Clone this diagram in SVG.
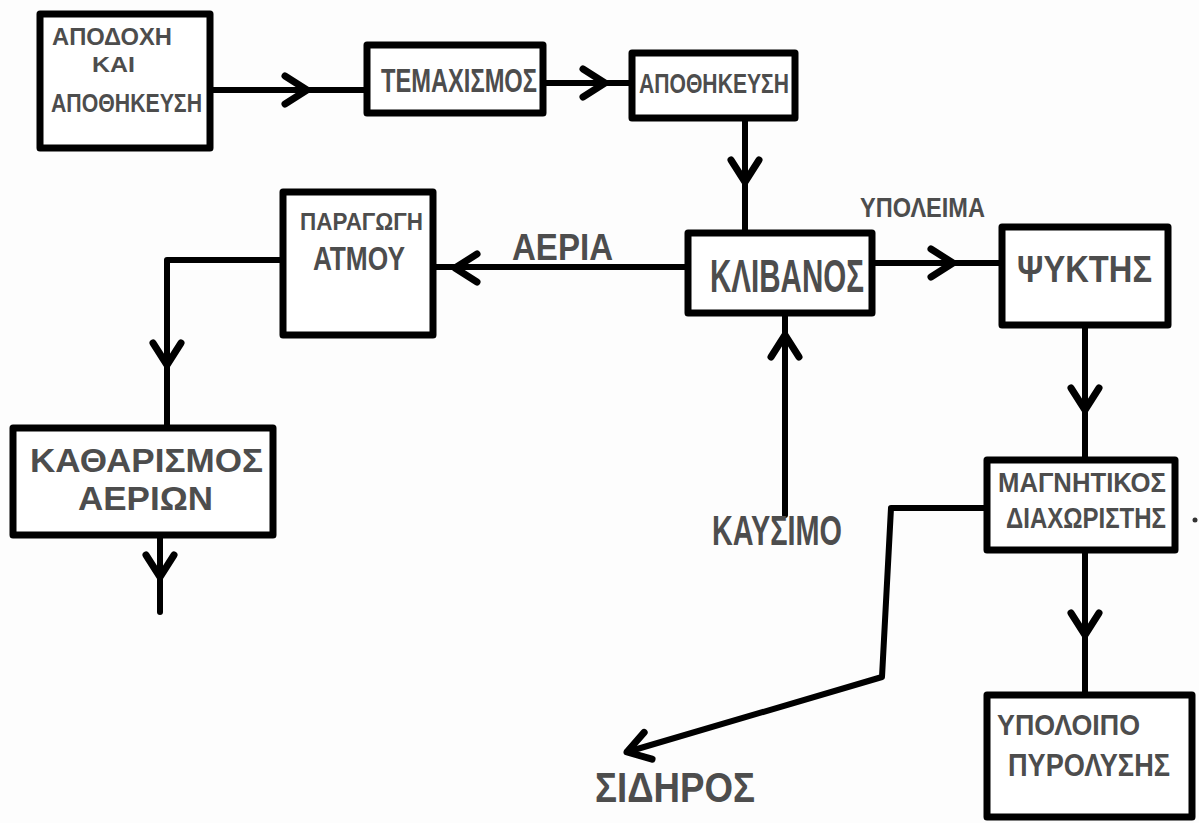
<svg xmlns="http://www.w3.org/2000/svg" xmlns:xlink="http://www.w3.org/1999/xlink" width="1199" height="823" viewBox="0 0 1199 823">
<style>
.box{fill:#fff;stroke:#000;stroke-width:7;stroke-linejoin:round}
.ln{fill:none;stroke:#000;stroke-width:6;stroke-linecap:round;stroke-linejoin:round}
.t{font-family:"Liberation Sans","DejaVu Sans",sans-serif;font-weight:bold;fill:#4d4d4d}
</style>
<defs>
<path id="chev" d="M-22,-14 L0,0 L-22,14" fill="none" stroke="#000" stroke-width="7" stroke-linecap="round" stroke-linejoin="round"/>
</defs>
<rect width="1199" height="823" fill="#fdfdfd"/>
<g id="connectors">
<path class="ln" d="M210,90 H367"/>
<use xlink:href="#chev" transform="translate(307,90)"/>
<path class="ln" d="M543,83 H632"/>
<use xlink:href="#chev" transform="translate(605,83)"/>
<path class="ln" d="M745,118 V233"/>
<use xlink:href="#chev" transform="translate(745,182) rotate(90)"/>
<path class="ln" d="M688,267 H433"/>
<use xlink:href="#chev" transform="translate(455,268) rotate(180)"/>
<path class="ln" d="M872,263 H1002"/>
<use xlink:href="#chev" transform="translate(953,263)"/>
<path class="ln" d="M1085,325 V460"/>
<use xlink:href="#chev" transform="translate(1085,410) rotate(90)"/>
<path class="ln" d="M1085,550 V695"/>
<use xlink:href="#chev" transform="translate(1085,635) rotate(90)"/>
<path class="ln" d="M785,515 V313"/>
<use xlink:href="#chev" transform="translate(785,335) rotate(-90)"/>
<path class="ln" d="M283,260 H167 V428"/>
<use xlink:href="#chev" transform="translate(167,365) rotate(90)"/>
<path class="ln" d="M160,535 V612"/>
<use xlink:href="#chev" transform="translate(160,577) rotate(90)"/>
<path class="ln" d="M987,508 H891 L882,677 L627,752"/>
<use xlink:href="#chev" transform="translate(627,752) rotate(163.6)"/>
</g>
<g id="n_apodoxi">
<rect class="box" x="40" y="14" width="170" height="134"/>
<text class="t" x="52" y="45" font-size="24" textLength="120" lengthAdjust="spacingAndGlyphs">ΑΠΟΔΟΧΗ</text>
<text class="t" x="92" y="72" font-size="22" textLength="43" lengthAdjust="spacingAndGlyphs">ΚΑΙ</text>
<text class="t" x="51" y="112" font-size="26" textLength="151" lengthAdjust="spacingAndGlyphs">ΑΠΟΘΗΚΕΥΣΗ</text>
</g>
<g id="n_temaxismos">
<rect class="box" x="367" y="45" width="176" height="68"/>
<text class="t" x="381" y="92" font-size="33" textLength="156" lengthAdjust="spacingAndGlyphs">ΤΕΜΑΧΙΣΜΟΣ</text>
</g>
<g id="n_apothikeusi">
<rect class="box" x="632" y="53" width="163" height="65"/>
<text class="t" x="639" y="93" font-size="27" textLength="150" lengthAdjust="spacingAndGlyphs">ΑΠΟΘΗΚΕΥΣΗ</text>
</g>
<g id="n_paragogi">
<rect class="box" x="283" y="192" width="150" height="143"/>
<text class="t" x="300" y="230" font-size="24" textLength="123" lengthAdjust="spacingAndGlyphs">ΠΑΡΑΓΩΓΗ</text>
<text class="t" x="313" y="270" font-size="33" textLength="92" lengthAdjust="spacingAndGlyphs">ΑΤΜΟΥ</text>
</g>
<g id="n_klivanos">
<rect class="box" x="688" y="233" width="184" height="80"/>
<text class="t" x="710" y="292" font-size="46" textLength="154" lengthAdjust="spacingAndGlyphs">ΚΛΙΒΑΝΟΣ</text>
</g>
<g id="n_psyktis">
<rect class="box" x="1002" y="227" width="166" height="98"/>
<text class="t" x="1017" y="282" font-size="36" textLength="135" lengthAdjust="spacingAndGlyphs">ΨΥΚΤΗΣ</text>
</g>
<g id="n_katharismos">
<rect class="box" x="13" y="428" width="260" height="107"/>
<text class="t" x="30" y="472" font-size="33" textLength="233" lengthAdjust="spacingAndGlyphs">ΚΑΘΑΡΙΣΜΟΣ</text>
<text class="t" x="78" y="510" font-size="34" textLength="135" lengthAdjust="spacingAndGlyphs">ΑΕΡΙΩΝ</text>
</g>
<g id="n_magnitikos">
<rect class="box" x="987" y="460" width="188" height="90"/>
<text class="t" x="998" y="492" font-size="28" textLength="168" lengthAdjust="spacingAndGlyphs">ΜΑΓΝΗΤΙΚΟΣ</text>
<text class="t" x="1006" y="528" font-size="29" textLength="160" lengthAdjust="spacingAndGlyphs">ΔΙΑΧΩΡΙΣΤΗΣ</text>
<circle cx="1195" cy="520" r="2.5" fill="#333"/>
</g>
<g id="n_ypoloipo">
<rect class="box" x="987" y="695" width="205" height="122"/>
<text class="t" x="997" y="735" font-size="30" textLength="143" lengthAdjust="spacingAndGlyphs">ΥΠΟΛΟΙΠΟ</text>
<text class="t" x="1008" y="776" font-size="32" textLength="162" lengthAdjust="spacingAndGlyphs">ΠΥΡΟΛΥΣΗΣ</text>
</g>
<g id="labels">
<text class="t" x="512" y="260" font-size="36" textLength="101" lengthAdjust="spacingAndGlyphs">ΑΕΡΙΑ</text>
<text class="t" x="860" y="217" font-size="27" textLength="125" lengthAdjust="spacingAndGlyphs">ΥΠΟΛΕΙΜΑ</text>
<text class="t" x="712" y="545" font-size="42" textLength="130" lengthAdjust="spacingAndGlyphs">ΚΑΥΣΙΜΟ</text>
<text class="t" x="595" y="802" font-size="42" textLength="160" lengthAdjust="spacingAndGlyphs">ΣΙΔΗΡΟΣ</text>
</g>
</svg>
